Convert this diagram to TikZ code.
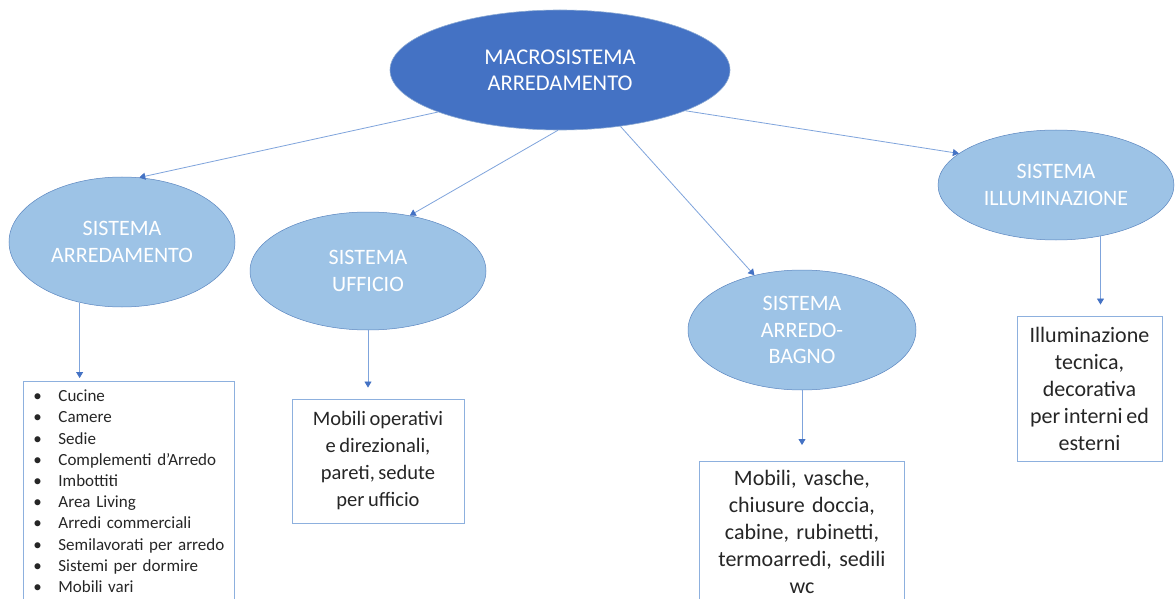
\documentclass[tikz,border=0pt]{standalone}
\usepackage{fontspec}
\setmainfont[WordSpace=0.75]{Carlito}
\frenchspacing
\usetikzlibrary{shapes.geometric,arrows.meta}
\definecolor{dkblue}{HTML}{4472C4}
\definecolor{ltblue}{HTML}{9DC3E6}
\definecolor{edgeblue}{HTML}{5B86C0}
\definecolor{lineblue}{HTML}{7FA4DC}
\definecolor{tipblue}{HTML}{4472C4}
\definecolor{boxblue}{HTML}{8DB0DE}
\definecolor{txt}{HTML}{262626}
\begin{document}
\begin{tikzpicture}[x=1pt,y=-1pt,
 mainell/.style={ellipse, fill=dkblue, draw=edgeblue!70, line width=0.6pt, inner sep=0pt, text=white, align=center, font=\fontsize{22.5}{26}\selectfont\frenchspacing},
 subell/.style={ellipse, fill=ltblue, draw=edgeblue, line width=0.5pt, inner sep=0pt, text=white, align=center, font=\fontsize{22}{26.5}\selectfont\frenchspacing},
 infobox/.style={draw=boxblue, line width=0.9pt, inner sep=0pt, align=center, text=txt, font=\fontsize{20.5}{27}\selectfont\frenchspacing},
 link/.style={draw=lineblue, line width=0.8pt, -{Triangle[width=7pt,length=6pt,color=tipblue]}},
]
\useasboundingbox (0,0) rectangle (1176,599);
\fill[white] (0,0) rectangle (1176,599);

\node[mainell, minimum width=340, minimum height=120] (macro) at (560,70) {MACROSISTEMA\\ARREDAMENTO};

\node[subell, minimum width=226, minimum height=130] (arr) at (122,242) {SISTEMA\\ARREDAMENTO};
\node[subell, minimum width=236, minimum height=118] (uff) at (368,271) {SISTEMA\\UFFICIO};
\node[subell, minimum width=228, minimum height=120] (bagno) at (802,330) {SISTEMA\\ARREDO-\\BAGNO};
\node[subell, minimum width=236, minimum height=110] (ill) at (1056,185) {SISTEMA\\ILLUMINAZIONE};

\node[infobox, anchor=north west, align=left, text width=201, inner xsep=5, inner ysep=8.5,
      text depth=205, font=\fontsize{17}{21.2}\selectfont\frenchspacing] (list) at (23,381)
 {\makebox[30pt][l]{\hspace{5pt}\textbullet}Cucine\\
  \makebox[30pt][l]{\hspace{5pt}\textbullet}Camere\\
  \makebox[30pt][l]{\hspace{5pt}\textbullet}Sedie\\
  \makebox[30pt][l]{\hspace{5pt}\textbullet}Complementi d’Arredo\\
  \makebox[30pt][l]{\hspace{5pt}\textbullet}Imbottiti\\
  \makebox[30pt][l]{\hspace{5pt}\textbullet}Area Living\\
  \makebox[30pt][l]{\hspace{5pt}\textbullet}Arredi commerciali\\
  \makebox[30pt][l]{\hspace{5pt}\textbullet}Semilavorati per arredo\\
  \makebox[30pt][l]{\hspace{5pt}\textbullet}Sistemi per dormire\\
  \makebox[30pt][l]{\hspace{5pt}\textbullet}Mobili vari};

\node[infobox, minimum width=172, minimum height=124] (ubox) at (378,461)
 {Mobili operativi\\e direzionali,\\pareti, sedute\\per ufficio};

\node[infobox, anchor=north west, text width=205, inner ysep=9, text depth=140,
      font=\fontsize{22}{27}\selectfont\frenchspacing] (bbox) at (699,461)
 {Mobili, vasche,\\chiusure doccia,\\cabine, rubinetti,\\termoarredi, sedili\\wc};

\node[infobox, minimum width=145, minimum height=145, font=\fontsize{22}{27}\selectfont\frenchspacing] (ibox) at (1089.5,388.5)
 {Illuminazione\\tecnica,\\decorativa\\per interni ed\\esterni};

\draw[link] (macro.199) -- (arr.75);
\draw[link] (macro.268) -- (uff.53);
\draw[link] (macro.317) -- (bagno.131);
\draw[link] (macro.342) -- (ill.162);

\draw[link, shorten >=3pt] (arr.235) -- (arr.235 |- list.north);
\draw[link, shorten >=11pt] (uff.south) -- (uff.south |- ubox.north);
\draw[link, shorten >=16pt] (bagno.south) -- (bagno.south |- bbox.north);
\draw[link, shorten >=11pt] (ill.311) -- (ill.311 |- ibox.north);
\end{tikzpicture}
\end{document}
